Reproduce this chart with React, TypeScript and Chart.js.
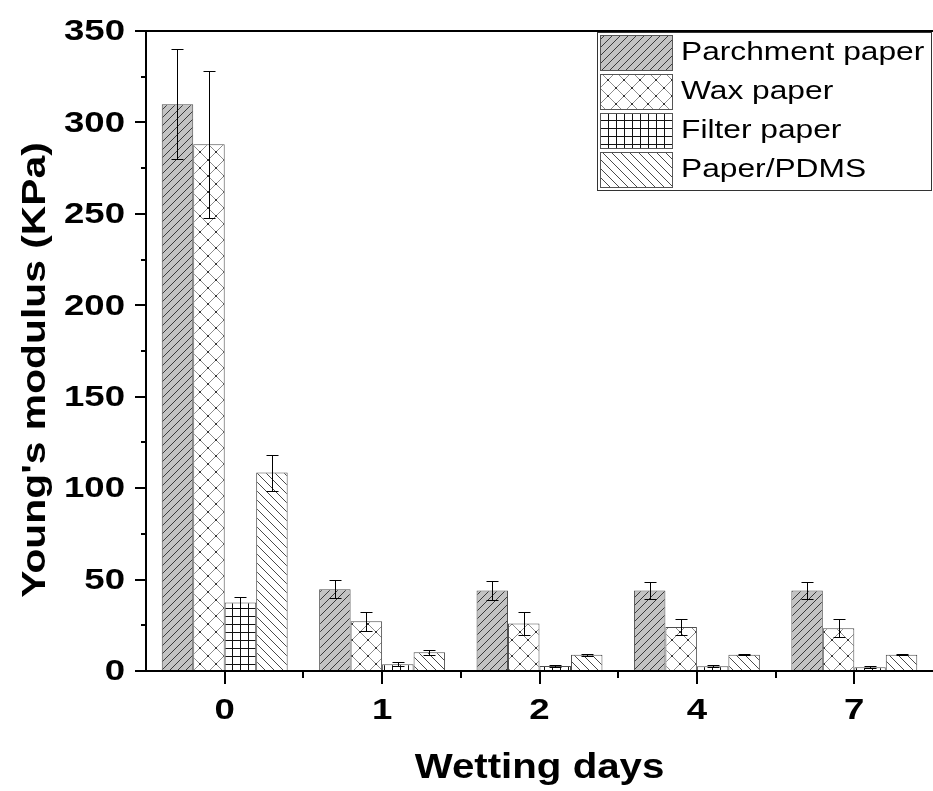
import React, { useEffect, useRef } from 'react';
import { Chart, registerables } from 'chart.js';

Chart.register(...registerables);

// Wetting time categories (days)
const days = ['0', '1', '2', '4', '7'];
const seriesNames = ['Parchment paper', 'Wax paper', 'Filter paper', 'Paper/PDMS'];

// Young's modulus (KPa) and standard deviation per material
const parchment = [310, 44.7, 44, 44, 44];
const parchmentErr = [30, 5, 5.1, 4.7, 4.7];
const wax = [288, 27.2, 26, 24.1, 23.4];
const waxErr = [40, 5.2, 6.3, 4.6, 4.9];
const filterPaper = [37.5, 3.7, 2.7, 2.6, 2.0];
const filterPaperErr = [2.8, 1.1, 0.6, 0.5, 0.5];
const pdms = [108.5, 10.2, 8.9, 8.9, 8.9];
const pdmsErr = [9.8, 1.3, 0.5, 0.4, 0.3];

const yMajorTicks = [0, 50, 100, 150, 200, 250, 300, 350];

const xTitle = 'Wetting days';
const yTitle = "Young's modulus (KPa)";

const FONT = '"Liberation Sans", Arial, Helvetica, sans-serif';

type TileDraw = (g: CanvasRenderingContext2D, s: number) => void;

function makePattern(size: number, draw: TileDraw): CanvasPattern {
  const c = document.createElement('canvas');
  c.width = size;
  c.height = size;
  const g = c.getContext('2d') as CanvasRenderingContext2D;
  draw(g, size);
  return g.createPattern(c, 'repeat') as CanvasPattern;
}

function forwardHatch(g: CanvasRenderingContext2D, s: number) {
  g.beginPath();
  for (let k = -1; k <= 1; k++) {
    g.moveTo(k * s, s);
    g.lineTo(k * s + s, 0);
  }
  g.stroke();
}

function backHatch(g: CanvasRenderingContext2D, s: number) {
  g.beginPath();
  for (let k = -1; k <= 1; k++) {
    g.moveTo(k * s, 0);
    g.lineTo(k * s + s, s);
  }
  g.stroke();
}

function buildPatterns(): CanvasPattern[] {
  const parchmentPat = makePattern(8, (g, s) => {
    g.fillStyle = '#c3c3c3';
    g.fillRect(0, 0, s, s);
    g.strokeStyle = '#3a3a3a';
    g.lineWidth = 1;
    forwardHatch(g, s);
  });
  const waxPat = makePattern(16, (g, s) => {
    g.fillStyle = '#ffffff';
    g.fillRect(0, 0, s, s);
    g.strokeStyle = '#8c8c8c';
    g.lineWidth = 1;
    forwardHatch(g, s);
    backHatch(g, s);
    g.fillStyle = '#1a1a1a';
    const pts = [
      [s / 2, s / 2],
      [0, 0],
      [s, 0],
      [0, s],
      [s, s],
    ];
    pts.forEach(([px, py]) => {
      g.beginPath();
      g.arc(px, py, 1, 0, Math.PI * 2);
      g.fill();
    });
  });
  const filterPat = makePattern(8, (g, s) => {
    g.fillStyle = '#ffffff';
    g.fillRect(0, 0, s, s);
    g.strokeStyle = '#111111';
    g.lineWidth = 1;
    g.beginPath();
    g.moveTo(0.5, 0);
    g.lineTo(0.5, s);
    g.moveTo(0, 0.5);
    g.lineTo(s, 0.5);
    g.stroke();
  });
  const pdmsPat = makePattern(9, (g, s) => {
    g.fillStyle = '#ffffff';
    g.fillRect(0, 0, s, s);
    g.strokeStyle = '#4a4a4a';
    g.lineWidth = 1;
    backHatch(g, s);
  });
  return [parchmentPat, waxPat, filterPat, pdmsPat];
}

// Text is drawn slightly widened along its own direction
function drawText(
  ctx: CanvasRenderingContext2D,
  text: string,
  x: number,
  y: number,
  font: string,
  align: CanvasTextAlign,
  baseline: CanvasTextBaseline,
  stretch = 1.22,
  rotation = 0
) {
  ctx.save();
  ctx.translate(x, y);
  if (rotation) ctx.rotate(rotation);
  ctx.scale(stretch, 1);
  ctx.font = font;
  ctx.fillStyle = '#000000';
  ctx.textAlign = align;
  ctx.textBaseline = baseline;
  ctx.fillText(text, 0, 0);
  ctx.restore();
}

const errors = [parchmentErr, waxErr, filterPaperErr, pdmsErr];

const errorBarPlugin = {
  id: 'errorBars',
  afterDatasetsDraw(chart: any) {
    const ctx: CanvasRenderingContext2D = chart.ctx;
    const yScale = chart.scales.y;
    ctx.save();
    ctx.strokeStyle = '#000000';
    ctx.lineWidth = 1;
    chart.data.datasets.forEach((ds: any, i: number) => {
      const meta = chart.getDatasetMeta(i);
      meta.data.forEach((bar: any, j: number) => {
        const v = ds.data[j];
        const e = errors[i][j];
        const x = Math.round(bar.x) + 0.5;
        const yTop = Math.round(yScale.getPixelForValue(v + e)) + 0.5;
        const yBot = Math.round(yScale.getPixelForValue(Math.max(0, v - e))) + 0.5;
        const cap = 6;
        ctx.beginPath();
        ctx.moveTo(x, yTop);
        ctx.lineTo(x, yBot);
        ctx.moveTo(x - cap, yTop);
        ctx.lineTo(x + cap, yTop);
        ctx.moveTo(x - cap, yBot);
        ctx.lineTo(x + cap, yBot);
        ctx.stroke();
      });
    });
    ctx.restore();
  },
};

const axesPlugin = {
  id: 'frameAxes',
  afterDraw(chart: any) {
    const ctx: CanvasRenderingContext2D = chart.ctx;
    const { left, right, top, bottom } = chart.chartArea;
    const xScale = chart.scales.x;
    const yScale = chart.scales.y;

    ctx.save();
    ctx.strokeStyle = '#000000';
    ctx.lineWidth = 2;
    ctx.beginPath();
    // frame: top, left and bottom
    ctx.moveTo(left, top);
    ctx.lineTo(right, top);
    ctx.moveTo(left, top - 1);
    ctx.lineTo(left, bottom + 1);
    ctx.moveTo(left - 1, bottom);
    ctx.lineTo(right, bottom);
    ctx.stroke();

    // y ticks: major with labels, minor halfway
    ctx.lineWidth = 2;
    ctx.beginPath();
    yMajorTicks.forEach((v, k) => {
      const py = Math.round(yScale.getPixelForValue(v));
      ctx.moveTo(left - 11, py);
      ctx.lineTo(left, py);
      if (k < yMajorTicks.length - 1) {
        const mid = (v + yMajorTicks[k + 1]) / 2;
        const pm = Math.round(yScale.getPixelForValue(mid));
        ctx.moveTo(left - 5, pm);
        ctx.lineTo(left, pm);
      }
    });
    // x ticks: major at categories, minor between them
    days.forEach((_, i) => {
      const px = Math.round(xScale.getPixelForTick(i));
      ctx.moveTo(px, bottom);
      ctx.lineTo(px, bottom + 13);
      if (i < days.length - 1) {
        const nx = Math.round((xScale.getPixelForTick(i) + xScale.getPixelForTick(i + 1)) / 2);
        ctx.moveTo(nx, bottom);
        ctx.lineTo(nx, bottom + 7);
      }
    });
    ctx.stroke();
    ctx.restore();

    const tickFont = `bold 30px ${FONT}`;
    yMajorTicks.forEach((v) => {
      const py = yScale.getPixelForValue(v);
      drawText(ctx, String(v), left - 21, py + 1, tickFont, 'right', 'middle');
    });
    days.forEach((d, i) => {
      const px = xScale.getPixelForTick(i);
      drawText(ctx, d, px, bottom + 48, tickFont, 'center', 'alphabetic');
    });

    // axis titles
    drawText(ctx, xTitle, (left + right) / 2, bottom + 107, `bold 35px ${FONT}`, 'center', 'alphabetic', 1.15);
    drawText(ctx, yTitle, 45, (top + bottom) / 2 + 19, `bold 34px ${FONT}`, 'center', 'alphabetic', 1.2, -Math.PI / 2);

    // legend box in the upper right corner
    const boxRight = right - 2;
    const boxLeft = boxRight - 334;
    const boxTop = top + 1;
    const boxBottom = boxTop + 158;
    ctx.save();
    ctx.fillStyle = '#ffffff';
    ctx.fillRect(boxLeft, boxTop, boxRight - boxLeft, boxBottom - boxTop);
    ctx.strokeStyle = '#333333';
    ctx.lineWidth = 1;
    ctx.strokeRect(boxLeft + 0.5, boxTop + 0.5, boxRight - boxLeft, boxBottom - boxTop);
    chart.data.datasets.forEach((ds: any, i: number) => {
      const sy = boxTop + 3 + i * 39;
      const sx = boxLeft + 3;
      ctx.fillStyle = ds.backgroundColor;
      ctx.fillRect(sx, sy, 72, 35);
      ctx.strokeStyle = '#555555';
      ctx.strokeRect(sx + 0.5, sy + 0.5, 72, 35);
      drawText(ctx, ds.label, sx + 81, sy + 25, `26px ${FONT}`, 'left', 'alphabetic');
    });
    ctx.restore();
  },
};

export default function App() {
  const canvasRef = useRef<HTMLCanvasElement | null>(null);

  useEffect(() => {
    const canvas = canvasRef.current;
    if (!canvas) return;
    const patterns = buildPatterns();
    const values = [parchment, wax, filterPaper, pdms];

    const chart = new Chart(canvas, {
      type: 'bar',
      data: {
        labels: days,
        datasets: seriesNames.map((name, i) => ({
          label: name,
          data: values[i],
          backgroundColor: patterns[i] as any,
          borderColor: '#4d4d4d',
          borderWidth: 1,
          borderSkipped: false,
          categoryPercentage: 0.8,
          barPercentage: 1.0,
        })),
      },
      options: {
        responsive: false,
        animation: false,
        devicePixelRatio: 1,
        layout: { padding: { left: 146, right: 0, top: 31, bottom: 120 } },
        plugins: {
          legend: { display: false },
          tooltip: { enabled: false },
        },
        scales: {
          x: { type: 'category', display: false, offset: true },
          y: { display: false, min: 0, max: 350, ticks: { stepSize: 50 } },
        },
      },
      plugins: [errorBarPlugin, axesPlugin],
    });

    return () => chart.destroy();
  }, []);

  return (
    <div style={{ position: 'absolute', left: 0, top: 0, width: 933, height: 791, background: '#ffffff' }}>
      <canvas ref={canvasRef} width={933} height={791} style={{ display: 'block' }} />
    </div>
  );
}
